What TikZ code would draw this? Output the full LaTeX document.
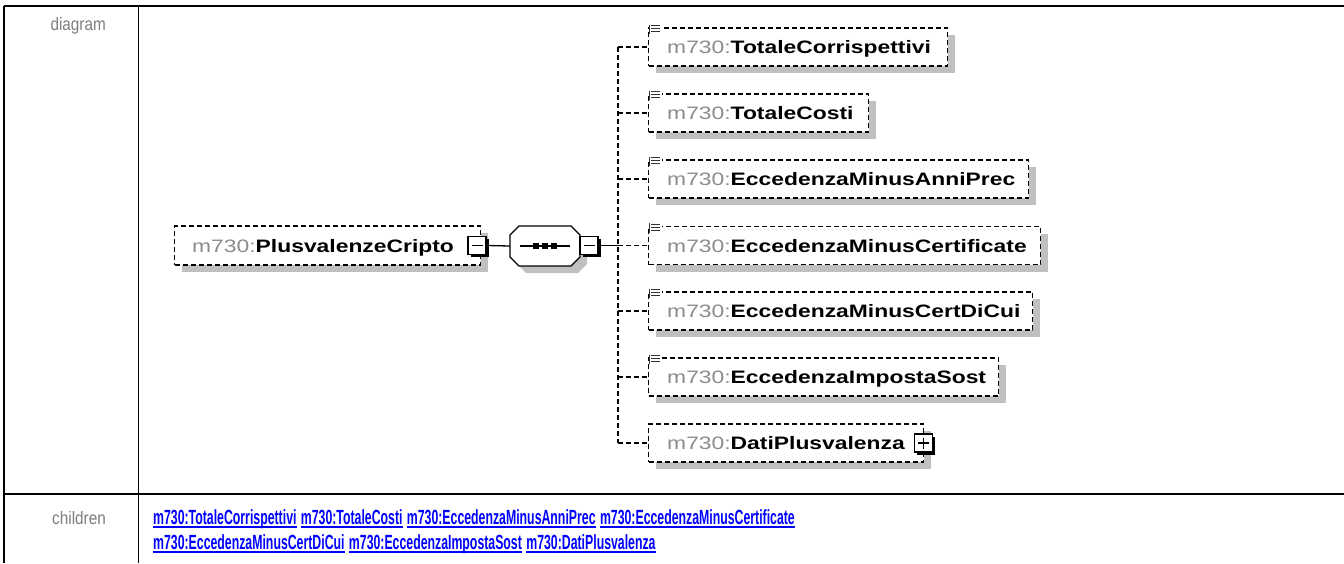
\documentclass[tikz,border=0pt]{standalone}
\usepackage{fontspec}
\setmainfont{Liberation Sans}
\usetikzlibrary{shadows}
\definecolor{pfx}{HTML}{8C8C8C}
\definecolor{lbl}{HTML}{7F7F7F}
\definecolor{lnk}{HTML}{0000FF}
\definecolor{shd}{HTML}{C0C0C0}
\newcommand{\dtext}[1]{\scalebox{1.27}[1]{\fontsize{18}{20}\selectfont\textcolor{pfx}{m730:}\textbf{#1}}}
\newcommand{\ulk}[1]{\setbox0\hbox{#1}\rlap{\rule[-3.5pt]{\wd0}{1.8pt}}\box0}
\newcommand{\ltext}[1]{\scalebox{0.6}[1]{\fontsize{20.5}{22}\selectfont\bfseries\ulk{m730:#1}}}
\newcommand{\labtext}[1]{\scalebox{0.85}[1]{\fontsize{18}{20}\selectfont #1}}
\tikzset{
  elbox/.style={draw, line width=1.4pt, dash pattern=on 5pt off 3pt, fill=white,
    minimum height=38pt, inner sep=0pt, anchor=west,
    drop shadow={shadow xshift=7pt, shadow yshift=-7pt, fill=shd, opacity=1}},
  eltext/.style={anchor=base west, inner sep=0pt},
  sqbox/.style={draw, line width=1.3pt, fill=white, minimum size=18pt, inner sep=0pt,
    drop shadow={shadow xshift=2.5pt, shadow yshift=-2.5pt, fill=black, opacity=1}},
  seqanchor/.style={minimum width=70pt, minimum height=40pt, inner sep=0pt},
  dline/.style={line width=1.4pt, dash pattern=on 5pt off 3pt},
  sline/.style={line width=1.3pt},
  lnktext/.style={anchor=base west, inner sep=0pt, text=lnk},
  lbltext/.style={anchor=base east, inner sep=0pt, text=lbl},
  icon/.style={line width=1pt, draw=black!80}
}
\newcommand{\elicon}[1]{%
  \fill[white] ([xshift=1pt,yshift=3pt]#1.north west) rectangle ([xshift=14pt,yshift=-9pt]#1.north west);
  \draw[icon] ([xshift=3pt,yshift=1.5pt]#1.north west) -- ([xshift=12pt,yshift=1.5pt]#1.north west);
  \draw[icon] ([xshift=3pt,yshift=-1.5pt]#1.north west) -- ([xshift=12pt,yshift=-1.5pt]#1.north west);
  \draw[icon] ([xshift=3pt,yshift=-4.5pt]#1.north west) -- ([xshift=12pt,yshift=-4.5pt]#1.north west);
  \draw[icon] ([xshift=1.5pt,yshift=2.5pt]#1.north west) -- ([xshift=1.5pt,yshift=-7pt]#1.north west);
}
\begin{document}
\begin{tikzpicture}[x=1pt, y=-1pt]
\useasboundingbox (0,0) rectangle (1344,563);
\fill[white] (0,0) rectangle (1344,563);
% table
\draw[line width=2.4pt] (4,6) -- (1344,6);
\draw[line width=1.6pt] (4,6) -- (4,563);
\draw[line width=1.6pt] (138.5,6) -- (138.5,563);
\draw[line width=2.4pt] (4,494) -- (1344,494);
\node[lbltext] (lbldiag) at (106,30) {\labtext{diagram}};
\node[lbltext] (lblchild) at (106,524) {\labtext{children}};
% root element
\node[elbox, minimum width=306pt, minimum height=39pt] (root) at (174,245.5) {};
\node[eltext] (roott) at ([xshift=18pt,yshift=-6.5pt]root.west) {\dtext{PlusvalenzeCripto}};
\node[sqbox] (rootsq) at (477,245.5) {};
\draw[line width=1.3pt] ([xshift=-5.5pt]rootsq.center) -- ([xshift=5.5pt]rootsq.center);
% sequence compositor
\node[seqanchor] (seq) at (545,246) {};
\begin{scope}[shift={(seq.center)}]
  \fill[shd] (-19,-13) -- (33,-13) -- (42,-4) -- (42,18) -- (33,27) -- (-19,27) -- (-28,18) -- (-28,-4) -- cycle;
  \draw[line width=1.3pt, fill=white] (-26,-20) -- (26,-20) -- (35,-11) -- (35,11) -- (26,20) -- (-26,20) -- (-35,11) -- (-35,-11) -- cycle;
  \draw[line width=1.3pt] (-25,0) -- (25,0);
  \foreach \dx in {-9,0,9} \fill (\dx-2.8,-2.8) rectangle (\dx+2.8,2.8);
\end{scope}
\node[sqbox] (seqsq) at (589,245.5) {};
\draw[line width=1.3pt] ([xshift=-5.5pt]seqsq.center) -- ([xshift=5.5pt]seqsq.center);
\draw[sline] (rootsq.east) -- (seq.west);
\coordinate (bus) at (618,245.5);
\draw[sline] (seqsq.east) -- (bus);
% children
\node[elbox, minimum width=299pt] (c1) at (648,47) {};
\node[elbox, minimum width=220pt] (c2) at (648,113) {};
\node[elbox, minimum width=380pt] (c3) at (648,179) {};
\node[elbox, minimum width=392pt] (c4) at (648,245.5) {};
\node[elbox, minimum width=384pt] (c5) at (648,311) {};
\node[elbox, minimum width=350pt] (c6) at (648,377) {};
\node[elbox, minimum width=275pt] (c7) at (648,443) {};
\foreach \c in {c1,c2,c3,c4,c5,c6} {\elicon{\c}}
\node[eltext] (t1) at ([xshift=19pt,yshift=-6.5pt]c1.west) {\dtext{TotaleCorrispettivi}};
\node[eltext] (t2) at ([xshift=19pt,yshift=-6.5pt]c2.west) {\dtext{TotaleCosti}};
\node[eltext] (t3) at ([xshift=19pt,yshift=-6.5pt]c3.west) {\dtext{EccedenzaMinusAnniPrec}};
\node[eltext] (t4) at ([xshift=19pt,yshift=-6.5pt]c4.west) {\dtext{EccedenzaMinusCertificate}};
\node[eltext] (t5) at ([xshift=19pt,yshift=-6.5pt]c5.west) {\dtext{EccedenzaMinusCertDiCui}};
\node[eltext] (t6) at ([xshift=19pt,yshift=-6.5pt]c6.west) {\dtext{EccedenzaImpostaSost}};
\node[eltext] (t7) at ([xshift=19pt,yshift=-6.5pt]c7.west) {\dtext{DatiPlusvalenza}};
\node[sqbox] (c7sq) at ([xshift=-1pt]c7.east) {};
\draw[line width=1.3pt] ([xshift=-5.5pt]c7sq.center) -- ([xshift=5.5pt]c7sq.center);
\draw[line width=1.3pt] ([yshift=-5.5pt]c7sq.center) -- ([yshift=5.5pt]c7sq.center);
% bus connectors
\draw[dline] (c1.west -| bus) -- (c7.west -| bus);
\foreach \c in {c1,c2,c3,c4,c5,c6,c7} {\draw[dline] (\c.west -| bus) -- (\c.west);}
% children links
\node[lnktext] (l1) at (153,524) {\ltext{TotaleCorrispettivi}};
\node[lnktext] (l2) at ([xshift=4pt]l1.base east) {\ltext{TotaleCosti}};
\node[lnktext] (l3) at ([xshift=4pt]l2.base east) {\ltext{EccedenzaMinusAnniPrec}};
\node[lnktext] (l4) at ([xshift=4pt]l3.base east) {\ltext{EccedenzaMinusCertificate}};
\node[lnktext] (l5) at (153,549) {\ltext{EccedenzaMinusCertDiCui}};
\node[lnktext] (l6) at ([xshift=4pt]l5.base east) {\ltext{EccedenzaImpostaSost}};
\node[lnktext] (l7) at ([xshift=4pt]l6.base east) {\ltext{DatiPlusvalenza}};
\end{tikzpicture}
\end{document}
